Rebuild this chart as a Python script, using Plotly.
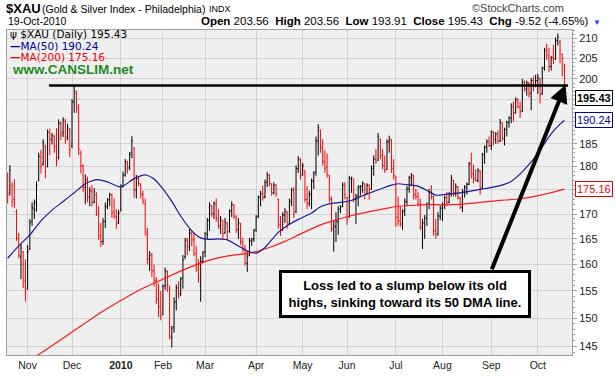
import math
import pandas as pd
import plotly.graph_objects as go

# ---------------- data ----------------
holidays = ["2009-11-26", "2009-12-25", "2010-01-01", "2010-01-18", "2010-02-15",
            "2010-04-02", "2010-05-31", "2010-07-05", "2010-09-06"]
dates = [d for d in pd.bdate_range("2009-10-20", "2010-10-19")
         if d.strftime("%Y-%m-%d") not in holidays]

prior_close = 177.6

opens = [177.0, 174.5, 176.0, 173.0, 170.5, 165.0, 161.5, 162.5, 157.0, 155.5,
         163.0, 168.5, 171.0, 172.5, 177.0, 182.0, 180.5, 184.5, 180.0, 187.5,
         186.0, 186.5, 184.5, 182.0, 189.5, 187.5, 190.0, 186.5, 188.0, 184.5,
         194.5, 196.5, 193.5, 183.0, 180.0, 175.5, 177.0, 173.5, 174.8, 172.5,
         174.0, 170.0, 165.5, 164.5, 168.5, 171.5, 173.0, 174.0, 170.5, 169.5,
         168.2, 171.0, 175.8, 178.2, 181.0, 179.8, 183.0, 184.0, 175.0, 177.4,
         176.0, 174.0, 172.0, 166.0, 161.0, 162.0, 158.8, 157.0, 153.5, 152.2,
         150.8, 156.0, 158.6, 155.5, 146.5, 148.5, 153.0, 155.5, 154.6, 157.5,
         161.5, 164.8, 163.5, 166.0, 164.8, 162.0, 159.0, 156.0, 160.6, 162.5,
         166.0, 168.8, 171.6, 170.0, 172.0, 169.0, 167.6, 168.6, 166.2, 168.0,
         166.5, 170.6, 171.8, 169.4, 166.8, 168.0, 164.5, 163.0, 160.2, 161.8,
         164.6, 165.0, 166.8, 169.5, 173.5, 174.2, 173.6, 176.6, 178.0, 176.2,
         174.4, 176.0, 173.0, 167.8, 166.8, 169.8, 170.4, 168.0, 172.6, 175.0,
         170.5, 179.5, 181.4, 178.2, 179.0, 173.0, 172.2, 174.0, 177.0, 178.8,
         185.6, 188.0, 184.0, 181.0, 179.8, 178.0, 173.0, 167.0, 167.4, 168.4,
         171.0, 171.6, 176.0, 173.4, 169.5, 177.4, 177.2, 173.0, 173.8, 175.6,
         175.8, 176.2, 174.2, 176.0, 175.2, 179.6, 181.6, 181.4, 186.0, 182.4,
         180.2, 179.4, 185.4, 185.8, 179.6, 177.6, 169.2, 168.6, 168.0, 170.6,
         172.6, 175.2, 177.6, 178.0, 174.0, 173.6, 172.0, 167.2, 168.2, 169.2,
         172.0, 174.6, 173.6, 166.6, 166.0, 169.6, 171.2, 172.0, 173.4, 172.4,
         174.2, 177.0, 174.4, 175.6, 173.2, 171.4, 174.6, 175.6, 176.2, 180.6,
         178.4, 177.4, 177.0, 179.0, 175.4, 182.6, 184.2, 185.4, 184.6, 187.6,
         186.0, 187.2, 185.6, 189.6, 186.2, 188.2, 189.8, 190.8, 193.4, 192.0,
         195.0, 193.4, 192.4, 199.2, 197.6, 199.0, 196.6, 199.6, 198.2, 199.6,
         200.0, 196.4, 202.6, 207.0, 205.6, 203.0, 205.2, 205.0, 209.4, 209.0,
         206.0, 203.56]

highs = [178.7, 180.3, 176.6, 177.3, 171.0, 166.2, 164.0, 162.6, 161.0, 163.8,
         169.0, 172.4, 173.0, 176.8, 183.0, 183.6, 186.0, 184.8, 188.2, 188.4,
         187.4, 187.0, 188.5, 190.5, 190.0, 191.0, 190.6, 189.5, 188.5, 195.2,
         198.4, 197.2, 194.0, 183.5, 180.5, 178.3, 177.8, 175.6, 176.0, 175.4,
         174.5, 171.6, 168.2, 169.2, 172.4, 173.3, 174.4, 174.2, 173.2, 171.0,
         170.8, 176.2, 178.9, 181.6, 181.2, 183.2, 186.7, 184.2, 178.2, 178.0,
         176.4, 174.8, 173.2, 167.2, 162.6, 162.2, 160.0, 157.6, 156.4, 155.0,
         156.2, 159.4, 158.9, 156.0, 148.6, 153.8, 156.2, 156.8, 157.6, 161.8,
         165.2, 165.2, 167.0, 166.6, 166.2, 163.6, 161.0, 161.6, 162.6, 166.4,
         169.2, 172.4, 171.8, 172.6, 173.2, 171.0, 169.6, 168.8, 169.2, 168.4,
         171.0, 172.6, 172.0, 169.8, 169.2, 168.2, 165.2, 163.8, 162.6, 165.2,
         165.2, 167.0, 169.8, 173.8, 174.8, 175.9, 177.2, 178.8, 178.4, 176.4,
         176.6, 176.2, 173.2, 169.6, 170.4, 171.2, 170.6, 173.2, 175.4, 175.6,
         180.2, 182.3, 181.8, 180.8, 179.2, 175.8, 174.8, 177.4, 179.0, 186.6,
         189.4, 188.2, 186.0, 183.6, 182.8, 178.2, 173.6, 168.6, 170.4, 171.6,
         171.8, 176.6, 176.6, 173.6, 178.0, 177.8, 177.4, 174.2, 176.0, 176.0,
         176.8, 176.4, 176.4, 176.2, 180.2, 182.4, 183.8, 187.4, 186.2, 183.8,
         182.4, 186.0, 186.8, 186.0, 181.6, 178.0, 173.6, 171.6, 171.0, 173.2,
         175.8, 178.0, 178.6, 178.2, 175.2, 174.6, 173.2, 169.0, 169.8, 172.4,
         175.2, 176.0, 173.8, 169.0, 170.4, 171.8, 172.4, 173.8, 174.6, 174.6,
         178.2, 177.2, 176.4, 175.8, 173.6, 175.2, 176.0, 176.6, 181.0, 183.0,
         180.4, 179.4, 179.6, 179.2, 183.0, 184.6, 186.0, 186.6, 188.0, 187.8,
         187.6, 188.0, 190.6, 189.8, 188.6, 190.2, 191.2, 194.2, 194.6, 195.6,
         195.4, 194.6, 200.0, 199.6, 199.6, 199.2, 200.2, 200.6, 201.0, 201.2,
         200.2, 203.0, 207.6, 208.6, 207.6, 205.6, 208.4, 210.2, 211.2, 209.6,
         206.2, 203.56]

lows = [172.2, 173.8, 171.5, 171.2, 164.6, 161.2, 157.2, 155.5, 153.0, 155.2,
        162.8, 167.6, 169.0, 170.5, 176.8, 178.5, 180.2, 177.5, 179.8, 182.5,
        184.8, 183.0, 180.0, 181.5, 185.8, 186.5, 185.0, 185.8, 182.0, 184.0,
        192.0, 192.0, 182.5, 178.5, 174.5, 172.0, 172.4, 171.6, 171.6, 172.2,
        169.6, 164.8, 163.4, 163.8, 167.2, 171.0, 171.6, 169.2, 169.0, 167.0,
        168.0, 170.5, 175.5, 177.8, 178.5, 179.2, 181.8, 173.4, 173.2, 175.8,
        173.2, 172.0, 165.6, 160.0, 158.8, 157.6, 155.8, 152.6, 150.2, 149.6,
        150.5, 155.2, 154.8, 146.2, 144.8, 147.4, 151.4, 153.6, 154.0, 155.4,
        161.0, 161.8, 162.6, 163.6, 161.6, 158.6, 156.5, 153.0, 160.2, 161.4,
        165.0, 166.6, 169.4, 169.0, 168.4, 167.0, 166.0, 165.0, 166.0, 164.8,
        166.2, 169.4, 169.0, 166.2, 165.0, 163.8, 162.4, 159.8, 158.6, 161.6,
        163.6, 164.4, 166.4, 169.2, 171.6, 172.8, 173.2, 175.6, 175.8, 173.8,
        174.0, 173.6, 167.0, 165.6, 166.6, 168.2, 167.0, 167.8, 171.6, 169.2,
        170.2, 178.6, 177.2, 178.0, 172.4, 171.0, 171.6, 171.0, 175.2, 178.0,
        182.4, 183.0, 180.2, 178.6, 177.6, 172.4, 166.4, 162.5, 164.4, 165.8,
        170.2, 171.4, 173.0, 167.8, 169.2, 174.4, 172.4, 168.0, 171.6, 173.8,
        174.4, 173.0, 174.0, 173.0, 175.0, 178.0, 180.6, 181.2, 181.6, 179.4,
        178.6, 179.2, 183.0, 178.6, 177.2, 167.4, 167.6, 167.4, 166.8, 169.6,
        171.6, 174.4, 175.8, 173.0, 173.0, 171.6, 166.8, 163.0, 165.0, 167.6,
        171.0, 173.0, 165.6, 165.0, 165.6, 168.8, 168.6, 171.0, 171.6, 172.2,
        173.6, 173.6, 173.6, 173.0, 171.0, 170.4, 173.4, 174.0, 176.0, 177.4,
        176.4, 176.8, 176.6, 174.0, 175.2, 180.6, 183.0, 184.2, 183.6, 184.6,
        185.0, 185.0, 185.4, 185.6, 184.6, 186.6, 188.6, 189.6, 190.0, 191.8,
        193.0, 190.8, 192.2, 197.0, 196.0, 195.6, 192.6, 197.0, 198.0, 196.4,
        194.2, 196.2, 202.0, 204.6, 201.6, 202.0, 203.6, 204.6, 208.2, 203.8,
        200.6, 193.91]

closes = [174.0, 179.2, 172.6, 172.0, 165.2, 161.8, 163.2, 156.8, 155.0, 162.5,
          168.2, 171.3, 172.2, 176.0, 182.2, 180.0, 185.3, 179.0, 187.6, 186.0,
          186.8, 184.2, 181.2, 189.6, 187.0, 190.4, 186.0, 188.5, 183.6, 194.6,
          197.0, 193.0, 183.8, 180.2, 175.6, 177.2, 173.6, 174.8, 172.4, 174.6,
          170.4, 165.6, 164.4, 168.4, 171.6, 172.9, 174.0, 170.2, 169.6, 168.0,
          170.2, 175.8, 178.2, 181.0, 179.6, 182.6, 185.6, 175.0, 177.4, 176.4,
          174.0, 172.6, 166.4, 161.0, 161.8, 158.8, 157.0, 153.6, 152.0, 150.4,
          155.8, 158.8, 156.2, 146.8, 148.2, 152.8, 155.6, 154.4, 157.2, 160.8,
          164.6, 163.4, 166.2, 164.8, 162.2, 159.4, 157.4, 160.6, 162.2, 166.0,
          168.6, 171.8, 170.0, 172.2, 169.2, 167.6, 168.8, 166.0, 168.4, 166.4,
          170.6, 172.0, 169.4, 166.8, 168.2, 164.4, 163.0, 160.4, 161.6, 164.6,
          164.8, 166.6, 169.2, 173.4, 174.2, 173.4, 176.6, 178.2, 176.4, 174.4,
          176.0, 174.2, 167.8, 166.6, 169.8, 170.6, 167.8, 172.6, 175.0, 170.0,
          179.6, 181.6, 178.0, 180.2, 173.0, 172.2, 174.2, 176.8, 178.6, 185.6,
          188.6, 184.2, 181.0, 179.6, 178.2, 173.2, 167.2, 167.6, 168.6, 171.0,
          171.4, 176.0, 174.0, 169.0, 177.4, 177.6, 173.0, 173.6, 175.6, 175.8,
          176.4, 174.0, 176.0, 175.0, 179.6, 181.6, 181.0, 186.6, 182.4, 180.2,
          179.2, 185.4, 186.0, 179.6, 178.0, 169.4, 168.6, 168.0, 170.6, 172.6,
          175.2, 177.6, 178.2, 174.0, 173.6, 172.0, 167.4, 168.2, 169.2, 172.0,
          174.6, 173.6, 166.6, 166.0, 169.6, 171.2, 172.0, 173.4, 172.4, 174.2,
          177.6, 174.4, 175.6, 173.4, 171.4, 174.6, 175.6, 176.2, 180.6, 178.4,
          177.4, 177.0, 179.2, 175.4, 182.6, 184.2, 185.4, 184.6, 187.6, 186.0,
          187.2, 185.6, 189.8, 186.2, 188.2, 189.8, 190.8, 193.6, 192.0, 195.0,
          193.4, 192.2, 199.2, 197.6, 199.0, 196.6, 199.6, 198.2, 199.6, 200.2,
          196.2, 202.6, 207.0, 205.6, 203.0, 205.2, 204.8, 209.4, 210.4, 207.0,
          204.95, 195.43]

# moving averages (bar number, value)
ma50_bar = [0, 5, 10, 15, 20, 25, 30, 35, 40, 45, 51, 57, 62, 66, 69, 74, 78, 83, 87, 91,
            95, 99, 104, 108, 112, 116, 122, 128, 132, 137, 141, 145, 150, 155, 159, 164,
            168, 173, 176, 180, 185, 189, 193, 198, 204, 213, 222, 227, 231, 236, 240,
            245, 249, 251]
ma50_val = [161.2, 163.6, 165.8, 168.6, 170.8, 172.6, 174.4, 176.3, 177.2, 176.7, 175.6,
            177.4, 178.2, 177.3, 175.8, 172.6, 169.6, 166.6, 165.2, 164.9, 165.0, 164.8,
            163.6, 162.6, 162.2, 163.3, 166.3, 168.2, 169.1, 170.2, 171.5, 172.1, 172.4,
            172.8, 173.6, 174.5, 175.2, 176.0, 176.3, 176.1, 175.8, 174.9, 173.9, 174.1,
            174.4, 175.1, 175.9, 176.8, 178.4, 181.0, 183.6, 187.2, 189.4, 190.24]
ma200_bar = [8, 14, 20, 30, 40, 51, 60, 69, 80, 90, 100, 110, 118, 125, 133, 141, 148, 155,
             162, 170, 176, 183, 190, 197, 204, 213, 222, 230, 237, 244, 251]
ma200_val = [142.4, 143.6, 145.1, 147.8, 150.5, 153.2, 155.3, 157.0, 159.1, 160.7, 161.7,
             162.3, 163.3, 164.5, 166.2, 167.8, 168.8, 169.7, 170.4, 171.1, 171.6, 171.8,
             172.0, 171.9, 172.0, 172.4, 172.8, 173.1, 173.6, 174.3, 175.16]

price_ticks = [145, 150, 155, 160, 165, 170, 175, 180, 185, 190, 195, 200, 205, 210]
minor_price_ticks = list(range(144, 213))

resistance_level = 198.4          # prior high (Dec-2009)
resistance_bars = [18.6, 252.6]
arrow_tail = (218.0, 158.8)       # (bar, price)
arrow_tip = (251.5, 198.6)
note_anchor = (179.3, 154.5)
note_text = "Loss led to a slump below its old<br>highs, sinking toward its 50 DMA line."

# ---------------- figure ----------------
W, H = 615, 377
ML, MR, MT, MB = 6, 43, 30, 20
PW, PH = W - ML - MR, H - MT - MB
x_range = [-0.3, 254.4]


def px(xp):
    return (xp - ML) / PW


def py(yp):
    return 1 - (yp - MT) / PH


n = len(dates)
bars = list(range(n))
prev = [prior_close] + closes[:-1]
up = [c >= p for c, p in zip(closes, prev)]

fig = go.Figure()


def add_ohlc(flag, color):
    idx = [i for i in bars if up[i] == flag]
    fig.add_trace(go.Ohlc(
        x=idx,
        open=[opens[i] for i in idx], high=[highs[i] for i in idx],
        low=[lows[i] for i in idx], close=[closes[i] for i in idx],
        increasing=dict(line=dict(color=color, width=1)),
        decreasing=dict(line=dict(color=color, width=1)),
        tickwidth=0.45, hoverinfo="skip", showlegend=False))


add_ohlc(True, "#000000")
add_ohlc(False, "#ff0000")

fig.add_trace(go.Scatter(x=ma200_bar, y=ma200_val, mode="lines",
                         line=dict(color="#ff1a1a", width=1.2, shape="spline", smoothing=0.6),
                         hoverinfo="skip", showlegend=False))
fig.add_trace(go.Scatter(x=ma50_bar, y=ma50_val, mode="lines",
                         line=dict(color="#1a1a9a", width=1.2, shape="spline", smoothing=0.6),
                         hoverinfo="skip", showlegend=False))
fig.add_trace(go.Scatter(x=resistance_bars, y=[resistance_level] * 2, mode="lines",
                         line=dict(color="#000000", width=2.6),
                         hoverinfo="skip", showlegend=False))

# month ticks
month_idx, month_txt = [], []
for i, d in enumerate(dates):
    if i > 0 and d.month != dates[i - 1].month:
        month_idx.append(i)
        month_txt.append("<b>%d</b>" % d.year if d.month == 1 else d.strftime("%b"))

last = n - 1
label_vals = [closes[last], ma50_val[-1], ma200_val[-1]]
label_cols = ["#000000", "#00009a", "#ee0000"]
hidden_ticks = [195, 190, 175]    # covered by the value labels on the reference

# pointer notches of the right-hand value labels
fig.add_trace(go.Scatter(x=[x_range[1] + 0.9] * 3, y=label_vals, mode="markers",
                         marker=dict(symbol="triangle-left", size=9, color="white",
                                     line=dict(color=label_cols, width=1)),
                         cliponaxis=False, hoverinfo="skip", showlegend=False))

grid = "#d3d3d3"
frame = "#98a4a4"
fig.update_layout(
    width=W, height=H, margin=dict(l=ML, r=MR, t=MT, b=MB),
    paper_bgcolor="white", plot_bgcolor="#efefef", showlegend=False,
    font=dict(family="Liberation Sans, Arial, sans-serif", size=11, color="#222222"),
)
fig.update_xaxes(range=x_range, tickmode="array", tickvals=month_idx, ticktext=month_txt,
                 showgrid=True, gridcolor=grid, gridwidth=1, showline=True, mirror=True,
                 linecolor=frame, linewidth=1, ticks="", zeroline=False,
                 rangeslider=dict(visible=False), tickfont=dict(size=10.5, color="#222"))
fig.update_yaxes(type="log", range=[math.log10(143.5), math.log10(212.1)], side="right",
                 tickmode="array", tickvals=price_ticks,
                 ticktext=["" if v in hidden_ticks else str(v) for v in price_ticks],
                 showgrid=True, gridcolor=grid, gridwidth=1, showline=True, mirror=True,
                 linecolor=frame, linewidth=1, ticks="outside", ticklen=4, tickcolor=frame,
                 minor=dict(tickmode="array", tickvals=minor_price_ticks, ticks="outside",
                            ticklen=2, tickcolor=frame, showgrid=False),
                 zeroline=False, tickfont=dict(size=11, color="#222"))

ann = []
# header
ann.append(dict(xref="paper", yref="paper", x=px(3), y=py(8), xanchor="left", yanchor="middle",
                text="<b>$XAU</b>", showarrow=False,
                font=dict(family="Liberation Sans, Arial", size=13, color="#000")))
ann.append(dict(xref="paper", yref="paper", x=px(39), y=py(9), xanchor="left", yanchor="middle",
                text="(Gold & Silver Index - Philadelphia)", showarrow=False,
                font=dict(size=10.5, color="#000")))
ann.append(dict(xref="paper", yref="paper", x=px(206), y=py(9), xanchor="left", yanchor="middle",
                text="INDX", showarrow=False, font=dict(size=9, color="#000")))
ann.append(dict(xref="paper", yref="paper", x=px(566), y=py(8), xanchor="right", yanchor="middle",
                text="©StockCharts.com", showarrow=False, font=dict(size=11, color="#444")))
chg = closes[last] - prev[last]
pct = chg / prev[last] * 100
ann.append(dict(xref="paper", yref="paper", x=px(5), y=py(21), xanchor="left", yanchor="middle",
                text=dates[last].strftime("%d-%b-%Y"), showarrow=False, font=dict(size=10.5, color="#000")))
ann.append(dict(xref="paper", yref="paper", x=px(591), y=py(21), xanchor="right", yanchor="middle",
                text=("<b>Open</b> %.2f  <b>High</b> %.2f  <b>Low</b> %.2f  <b>Close</b> %.2f  "
                      "<b>Chg</b> %.2f (%.2f%%)") % (opens[last], highs[last], lows[last],
                                                     closes[last], chg, pct),
                showarrow=False, font=dict(size=11.5, color="#000")))
ann.append(dict(xref="paper", yref="paper", x=px(597), y=py(22), xanchor="center", yanchor="middle",
                text="▼", showarrow=False, font=dict(size=8, color="#2040ff")))

# in-plot legend
lg = dict(family="DejaVu Sans, Verdana, sans-serif", size=10.5)
ann.append(dict(xref="paper", yref="paper", x=px(7), y=py(34), xanchor="left", yanchor="middle",
                text="ψ $XAU (Daily) %.2f" % closes[last], showarrow=False, font=dict(lg, color="#000")))
ann.append(dict(xref="paper", yref="paper", x=px(7), y=py(46), xanchor="left", yanchor="middle",
                text="<b>—</b>MA(50) %.2f" % ma50_val[-1], showarrow=False, font=dict(lg, color="#00009a")))
ann.append(dict(xref="paper", yref="paper", x=px(7), y=py(57.5), xanchor="left", yanchor="middle",
                text="<b>—</b>MA(200) %.2f" % ma200_val[-1], showarrow=False, font=dict(lg, color="#ee0000")))
ann.append(dict(xref="paper", yref="paper", x=px(9), y=py(69.5), xanchor="left", yanchor="middle",
                text="<b>www.CANSLIM.net</b>", showarrow=False,
                font=dict(family="Liberation Sans, Arial", size=13.5, color="#1e8a1e")))

# right-hand value labels
for val, col, bold in zip(label_vals, label_cols, [True, False, False]):
    t = "%.2f" % val
    ann.append(dict(xref="paper", yref="y", x=1, y=math.log10(val), xanchor="left", yanchor="middle",
                    xshift=3, text="<b>%s</b>" % t if bold else t, showarrow=False,
                    bgcolor="white", bordercolor=col, borderwidth=1, borderpad=1,
                    font=dict(size=11, color=col)))

# arrow + note
ann.append(dict(xref="x", yref="y", x=arrow_tip[0], y=math.log10(arrow_tip[1]),
                axref="x", ayref="y", ax=arrow_tail[0], ay=math.log10(arrow_tail[1]),
                showarrow=True, arrowhead=2, arrowsize=0.9, arrowwidth=4, arrowcolor="#000",
                text=""))
ann.append(dict(xref="x", yref="y", x=note_anchor[0], y=math.log10(note_anchor[1]),
                text="<b>%s</b>" % note_text, showarrow=False, align="center",
                bgcolor="white", bordercolor="#000", borderwidth=3, borderpad=2,
                width=242, height=38, font=dict(family="Liberation Sans, Arial", size=13, color="#000")))

fig.update_layout(annotations=ann)
fig.write_html("out.html", config={"displayModeBar": False},
               post_script="document.body.style.margin='0';document.body.style.overflow='hidden';")
